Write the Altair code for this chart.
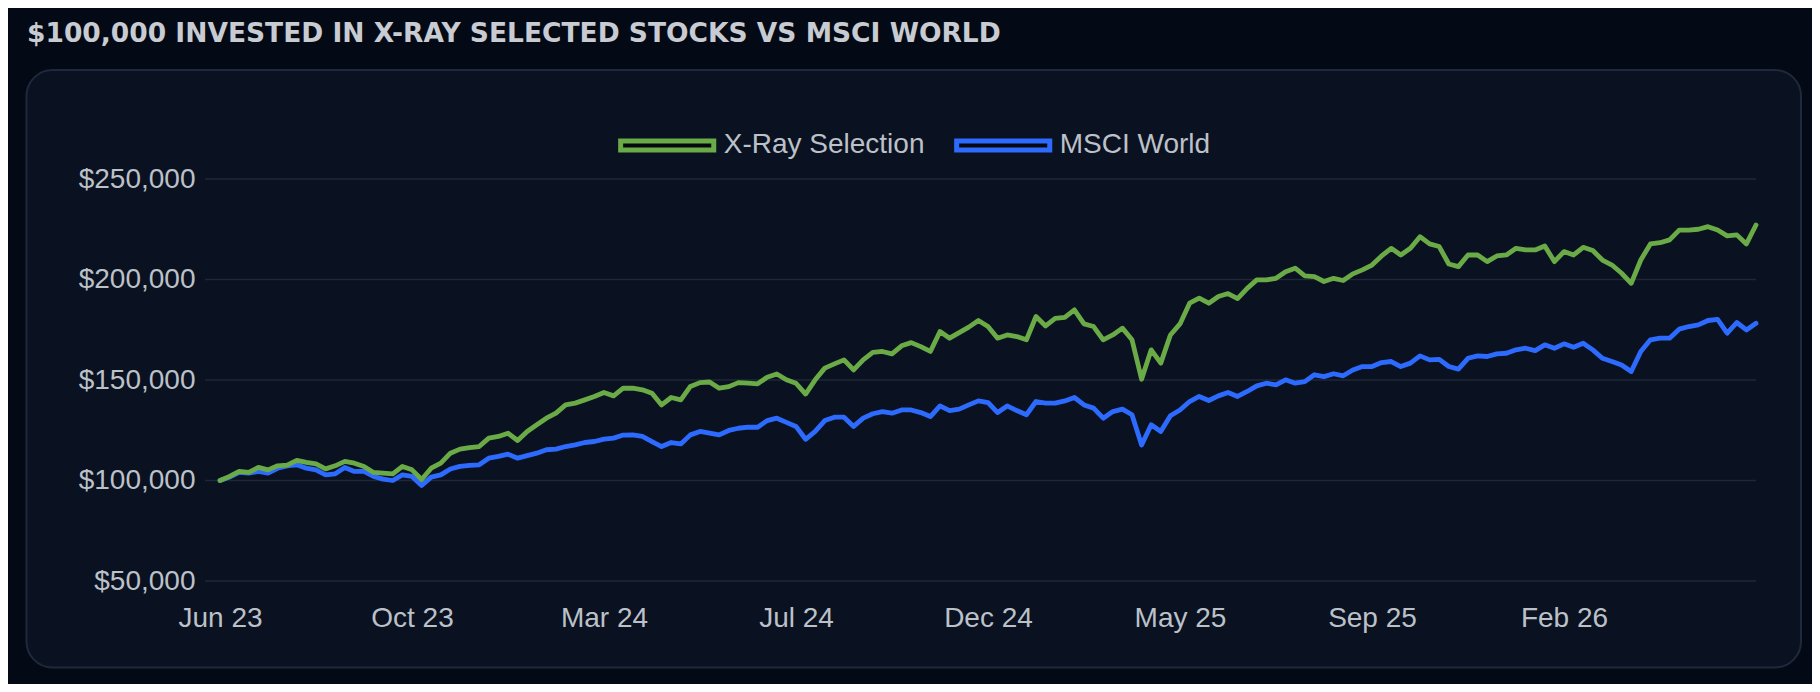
import altair as alt
import pandas as pd

# ---- data (values in thousands of USD) ----
XRAY_K = [
    100.0, 102.0, 104.5, 104.0, 106.5, 105.3, 107.3, 107.6, 110.0, 109.0,
    108.3, 105.8, 107.3, 109.5, 108.6, 107.0, 104.0, 103.7, 103.3, 107.0,
    105.3, 100.5, 106.1, 108.6, 113.6, 115.6, 116.4, 116.9, 121.1, 121.9,
    123.5, 119.9, 124.4, 127.7, 131.0, 133.5, 137.6, 138.5, 140.1, 141.8,
    143.8, 142.1, 145.9, 145.9, 145.1, 143.4, 137.6, 141.3, 140.1, 146.8,
    148.7, 149.0, 145.9, 146.7, 148.7, 148.4, 148.1, 151.4, 153.0, 150.1,
    148.4, 143.0, 150.1, 155.9, 158.0, 160.0, 155.0, 160.0, 163.7, 164.2,
    163.0, 167.0, 168.6, 166.6, 164.2, 174.1, 170.8, 173.6, 176.3, 179.6,
    176.6, 170.8, 172.4, 171.6, 170.0, 181.6, 176.9, 180.7, 181.2, 184.9,
    177.9, 176.6, 170.0, 172.4, 175.8, 170.0, 150.4, 165.0, 158.4, 172.4,
    177.9, 188.2, 190.7, 188.2, 191.5, 193.0, 190.5, 195.6, 199.8, 199.8,
    200.6, 203.9, 205.6, 201.8, 201.4, 199.0, 200.6, 199.5, 202.8, 204.8,
    207.2, 211.7, 215.5, 212.2, 215.5, 221.3, 217.7, 216.4, 207.7, 206.4,
    212.2, 212.2, 208.9, 211.7, 212.2, 215.5, 214.7, 214.7, 216.7, 208.9,
    213.9, 212.2, 216.0, 214.4, 209.7, 207.2, 203.1, 198.1, 209.7, 217.7,
    218.3, 219.7, 224.6, 224.6, 225.0, 226.3, 224.6, 221.7, 222.2, 217.7,
    227.1,
]
MSCI_K = [
    100.0, 101.7, 104.0, 103.7, 104.5, 103.7, 106.1, 107.3, 107.8, 106.1,
    105.3, 102.8, 103.3, 106.5, 104.5, 104.5, 102.0, 100.7, 100.0, 102.8,
    102.0, 97.5, 101.7, 102.8, 105.7, 107.0, 107.5, 107.8, 111.1, 112.0,
    113.1, 111.1, 112.4, 113.6, 115.3, 115.6, 116.9, 117.7, 118.9, 119.4,
    120.6, 121.1, 122.6, 122.7, 121.9, 119.4, 116.9, 118.9, 118.2, 122.7,
    124.4, 123.6, 122.7, 124.9, 126.0, 126.5, 126.5, 129.8, 131.0, 128.9,
    126.9, 120.5, 124.4, 129.8, 131.5, 131.5, 126.9, 131.0, 133.2, 134.3,
    133.5, 135.1, 135.1, 133.8, 131.8, 137.1, 134.8, 135.5, 137.6, 139.6,
    138.8, 133.8, 137.1, 134.8, 132.7, 139.3, 138.5, 138.5, 139.6, 141.3,
    137.6, 136.0, 131.0, 134.3, 135.5, 132.7, 117.7, 127.7, 124.4, 132.2,
    135.1, 139.3, 141.8, 139.8, 142.1, 143.8, 141.8, 144.3, 147.1, 148.4,
    147.6, 150.1, 148.4, 149.2, 152.6, 151.7, 153.1, 152.1, 155.0, 156.7,
    156.7, 158.7, 159.2, 156.7, 158.4, 162.0, 160.0, 160.3, 156.7, 155.4,
    160.8, 162.0, 161.7, 163.0, 163.3, 165.0, 165.8, 164.6, 167.5, 165.8,
    168.0, 166.3, 168.3, 165.0, 160.8, 159.2, 157.5, 154.2, 164.2, 170.0,
    170.8, 170.8, 175.3, 176.6, 177.4, 179.6, 180.2, 173.3, 178.6, 174.9,
    178.2,
]
SERIES = ["X-Ray Selection", "MSCI World"]
COLORS = ["#6aab47", "#2d6bff"]
TICK_LABELS = ["Jun 23", "Oct 23", "Mar 24", "Jul 24", "Dec 24", "May 25", "Sep 25", "Feb 26"]
TICK_STEP = 20
Y_TICKS = [50000, 100000, 150000, 200000, 250000]

rows = []
for name, vals in zip(SERIES, [XRAY_K, MSCI_K]):
    for i, v in enumerate(vals):
        rows.append({"step": i, "value": v * 1000, "series": name})
df = pd.DataFrame(rows)

tick_values = [i * TICK_STEP for i in range(len(TICK_LABELS))]
label_expr = "[" + ",".join("'%s'" % t for t in TICK_LABELS) + "][round(datum.value / %d)]" % TICK_STEP

FONT = "Liberation Sans"
FS = 28
TXT = "#bcc1c9"
GRID = "#1f2836"
N_STEPS = len(XRAY_K) - 1

x_scale = alt.Scale(domain=[0, N_STEPS], nice=False, zero=False)
y_scale = alt.Scale(domain=[50000, 250000], nice=False, zero=False)

x_axis = alt.Axis(
    values=tick_values, labelExpr=label_expr, title=None, grid=False,
    domain=False, ticks=False, tickSize=0, labelPadding=23, zindex=1,
    labelFont=FONT, labelFontSize=FS, labelColor=TXT, labelFlush=False,
)
y_axis = alt.Axis(
    values=Y_TICKS, format="$,.0f", title=None, grid=False,
    domain=False, ticks=False, tickSize=0, labelPadding=25, zindex=1,
    labelFont=FONT, labelFontSize=FS, labelColor=TXT,
)
x_enc = alt.X("step:Q", scale=x_scale, axis=x_axis)
y_enc = alt.Y("value:Q", scale=y_scale, axis=y_axis)
color_enc = alt.Color(
    "series:N",
    scale=alt.Scale(domain=SERIES, range=COLORS),
    legend=alt.Legend(
        orient="none", legendX=395.7, legendY=-85.5, direction="horizontal",
        title=None, symbolType="M-0.95,-0.092L0.95,-0.092L0.95,0.092L-0.95,0.092Z",
        symbolSize=9604, symbolStrokeWidth=5, symbolFillColor="#05080f",
        labelFont=FONT, labelFontSize=FS, labelColor=TXT, labelOffset=5,
        columnPadding=21, labelLimit=0, padding=0,
    ),
)

card = alt.Chart(pd.DataFrame({"a": [0]})).mark_rect(
    fill="#0a1120", stroke="#1e293b", strokeWidth=2, cornerRadius=26
).encode(
    x=alt.value(-193.5), x2=alt.value(1581), y=alt.value(-109), y2=alt.value(488.5)
)

grid = alt.Chart(pd.DataFrame({"value": Y_TICKS})).mark_rule(
    color=GRID, strokeWidth=1.5
).encode(
    y=y_enc,
    x=alt.value(-15), x2=alt.value(1536),
)

base = alt.Chart(df)
msci = base.transform_filter(alt.datum.series == "MSCI World").mark_line(
    strokeWidth=4.8, strokeJoin="round", strokeCap="round"
).encode(x=x_enc, y=y_enc, color=color_enc)
xray = base.transform_filter(alt.datum.series == "X-Ray Selection").mark_line(
    strokeWidth=4.8, strokeJoin="round", strokeCap="round"
).encode(x=x_enc, y=y_enc, color=color_enc)

chart = alt.layer(card, grid, msci, xray).properties(
    width=1536,
    height=402,
    title=alt.TitleParams(
        "$100,000 INVESTED IN X-RAY SELECTED STOCKS VS MSCI WORLD",
        anchor="start", frame="group", dx=-193, offset=22,
        font="DejaVu Sans", fontWeight="bold", fontSize=26.5, color="#c8ccd2",
    ),
    autosize=alt.AutoSizeParams(type="none"),
    padding={"left": 212, "top": 171, "right": 56, "bottom": 103},
).configure(background="#040a15").configure_view(stroke=None)

chart.save("out.html", embed_options={"renderer": "svg", "actions": False})
